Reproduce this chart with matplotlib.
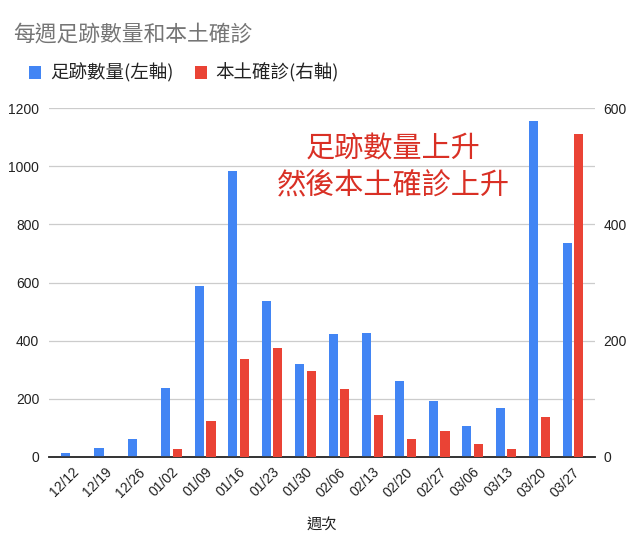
import numpy as np
import matplotlib.pyplot as plt

plt.rcParams['font.family'] = ['Noto Sans CJK TC', 'DejaVu Sans']

weeks = ['12/12', '12/19', '12/26', '01/02', '01/09', '01/16', '01/23', '01/30',
         '02/06', '02/13', '02/20', '02/27', '03/06', '03/13', '03/20', '03/27']
footprints = [12, 29, 60, 235, 588, 984, 535, 319, 424, 427, 262, 193, 106, 167, 1155, 737]
local_cases = [0, 0, 0, 13, 62, 169, 187, 148, 116, 72, 30, 45, 22, 14, 68, 555]

blue = '#4285F4'
red = '#EA4335'
num_font = ['Liberation Sans', 'DejaVu Sans']

fig = plt.figure(figsize=(6.4, 5.46), dpi=100)
ax = fig.add_axes([0.0766, 0.1636, 0.853, 0.638])
ax2 = ax.twinx()

x = np.arange(len(weeks))
w = 0.27
ax.bar(x - 0.175, footprints, w, color=blue, zorder=3, label='足跡數量(左軸)')
ax2.bar(x + 0.175, local_cases, w, color=red, zorder=3, label='本土確診(右軸)')

ax.set_ylim(0, 1200)
ax.set_yticks(range(0, 1201, 200))
ax2.set_ylim(0, 600)
ax2.set_yticks([0, 200, 400, 600])
ax.set_xlim(-0.67, len(weeks) - 0.34)
ax.set_xticks(x)
ax.set_xticklabels(weeks, rotation=45, ha='right', rotation_mode='anchor')

ax.grid(axis='y', color='#cccccc', lw=0.9, zorder=0)
for a in (ax, ax2):
    for s in ('top', 'left', 'right'):
        a.spines[s].set_visible(False)
    a.spines['bottom'].set_color('#333333')
    a.spines['bottom'].set_linewidth(1.2)
    a.tick_params(length=0, labelsize=10, colors='#222222')
    for lab in a.get_xticklabels() + a.get_yticklabels():
        lab.set_family(num_font)
ax.tick_params(axis='y', pad=7)
ax2.tick_params(axis='y', pad=6)
ax.tick_params(axis='x', pad=6)

ax.set_xlabel('週次', fontsize=11, color='#222222', labelpad=12)

fig.text(0.02, 0.937, '每週足跡數量和本土確診', fontsize=15.7, color='#757575', va='center')

h1, l1 = ax.get_legend_handles_labels()
h2, l2 = ax2.get_legend_handles_labels()
fig.legend(h1 + h2, l1 + l2, loc='center left', bbox_to_anchor=(0.02, 0.866), ncol=2,
           frameon=False, fontsize=13.3, handlelength=0.65, handleheight=0.65,
           handletextpad=0.45, columnspacing=1.2, labelcolor='#222222')

ax.text(0.63, 0.885, '足跡數量上升', transform=ax.transAxes, ha='center', va='center',
        fontsize=21, color='#D93025')
ax.text(0.63, 0.775, '然後本土確診上升', transform=ax.transAxes, ha='center', va='center',
        fontsize=21, color='#D93025')

plt.savefig('out.png')
